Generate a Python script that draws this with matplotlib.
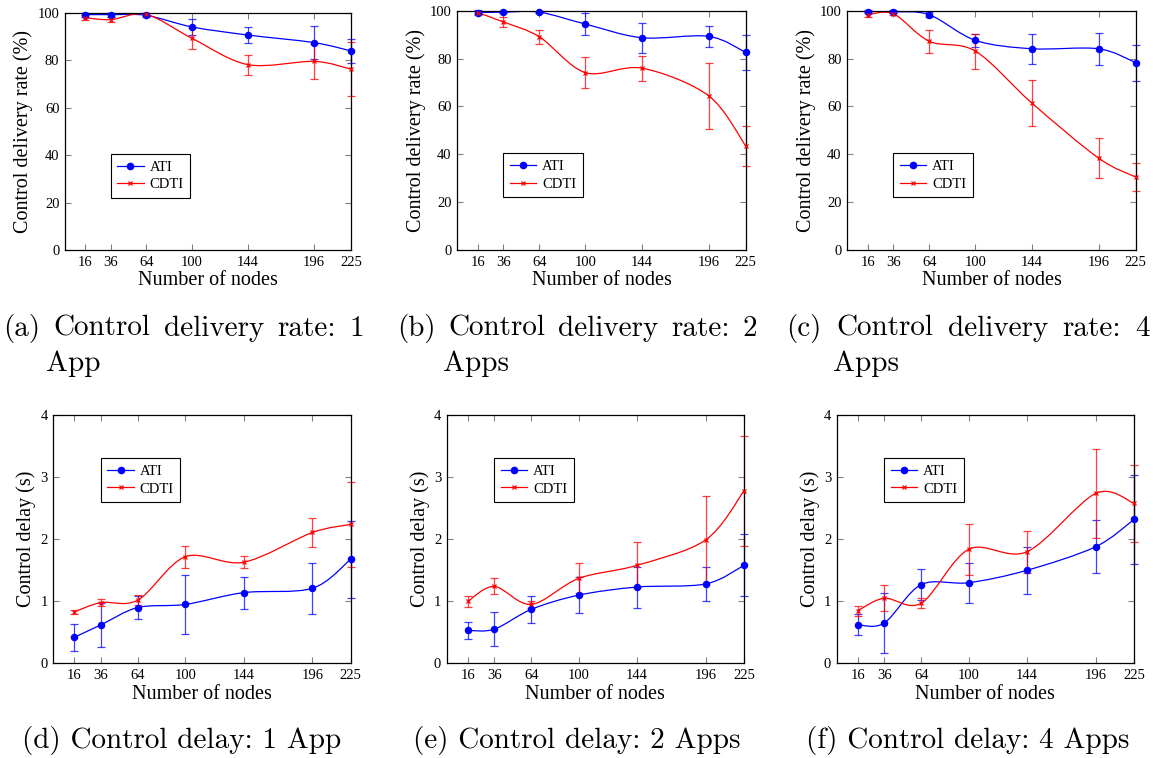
import numpy as np
import matplotlib
matplotlib.use("Agg")
import matplotlib.pyplot as plt
from matplotlib.path import Path
from matplotlib.patches import PathPatch
from matplotlib.lines import Line2D

# number of nodes on the x axis
nodes = [16, 36, 64, 100, 144, 196, 225]

# control delivery rate (%), mean and error, for 1 / 2 / 4 apps
rate_ati_1 = [99.3, 99.3, 99.0, 94.1, 90.7, 87.5, 84.0]
rate_ati_1_err = [0.8, 0.8, 0.8, 3.5, 3.2, 7.0, 5.0]
rate_cdti_1 = [98.0, 97.2, 99.4, 89.3, 78.2, 79.6, 76.3]
rate_cdti_1_err = [1.0, 1.0, 0.5, 4.5, 4.2, 7.4, 11.5]

rate_ati_2 = [99.2, 99.4, 99.4, 94.4, 88.7, 89.3, 82.6]
rate_ati_2_err = [1.0, 0.5, 0.5, 4.6, 6.2, 4.3, 7.2]
rate_cdti_2 = [99.2, 95.3, 89.1, 74.1, 76.0, 64.5, 43.5]
rate_cdti_2_err = [0.5, 2.0, 3.0, 6.4, 5.2, 13.8, 8.2]

rate_ati_4 = [99.6, 99.6, 98.3, 87.6, 84.1, 84.1, 78.3]
rate_ati_4_err = [0.5, 0.5, 1.0, 2.8, 6.2, 6.6, 7.5]
rate_cdti_4 = [98.3, 98.7, 87.2, 83.1, 61.4, 38.4, 30.5]
rate_cdti_4_err = [1.0, 0.5, 4.7, 7.3, 9.5, 8.2, 5.8]

# control delay (s), mean and error, for 1 / 2 / 4 apps
delay_ati_1 = [0.42, 0.62, 0.90, 0.95, 1.14, 1.21, 1.68]
delay_ati_1_err = [0.22, 0.35, 0.18, 0.47, 0.26, 0.41, 0.62]
delay_cdti_1 = [0.83, 0.98, 1.02, 1.72, 1.63, 2.11, 2.24]
delay_cdti_1_err = [0.03, 0.06, 0.08, 0.18, 0.10, 0.24, 0.68]

delay_ati_2 = [0.53, 0.55, 0.87, 1.10, 1.23, 1.28, 1.58]
delay_ati_2_err = [0.13, 0.27, 0.22, 0.29, 0.33, 0.28, 0.50]
delay_cdti_2 = [1.00, 1.24, 0.95, 1.37, 1.58, 1.99, 2.78]
delay_cdti_2_err = [0.09, 0.13, 0.05, 0.24, 0.37, 0.71, 0.88]

delay_ati_4 = [0.62, 0.65, 1.27, 1.30, 1.50, 1.88, 2.32]
delay_ati_4_err = [0.17, 0.48, 0.25, 0.32, 0.38, 0.43, 0.72]
delay_cdti_4 = [0.85, 1.05, 0.97, 1.84, 1.80, 2.74, 2.58]
delay_cdti_4_err = [0.08, 0.21, 0.08, 0.41, 0.34, 0.72, 0.62]

captions = [
    ["(a) Control delivery rate: 1", "App"],
    ["(b) Control delivery rate: 2", "Apps"],
    ["(c) Control delivery rate: 4", "Apps"],
    ["(d) Control delay: 1 App"],
    ["(e) Control delay: 2 Apps"],
    ["(f) Control delay: 4 Apps"],
]

W, H = 1153, 758
SERIF = "Liberation Serif"
CAPFONT = "cmr10"
CAPSIZE = 21
BLUE = "#0000ff"
RED = "#ff0000"


def smooth_path(x, y, t=0.16):
    # cubic bezier through the points, like a pgfplots "smooth" plot
    pts = np.column_stack([x, y]).astype(float)
    n = len(pts)
    verts = [pts[0]]
    codes = [Path.MOVETO]
    for i in range(n - 1):
        p0 = pts[max(i - 1, 0)]
        p1 = pts[i]
        p2 = pts[i + 1]
        p3 = pts[min(i + 2, n - 1)]
        verts += [p1 + (p2 - p0) * t, p2 - (p3 - p1) * t, p2]
        codes += [Path.CURVE4] * 3
    return Path(verts, codes)


def px_axes(fig, left, right, top, bottom):
    return fig.add_axes([left / W, 1 - bottom / H, (right - left) / W, (bottom - top) / H])


def panel(ax, series, ylim, yticks, ylabel, legend_y):
    for y, err, color, marker, ms in series:
        ax.add_patch(PathPatch(smooth_path(nodes, y), facecolor="none",
                               edgecolor=color, lw=0.9, zorder=2))
        ax.errorbar(nodes, y, yerr=err, fmt="none", ecolor=color, elinewidth=0.9,
                    capsize=3, capthick=0.9, alpha=0.75, zorder=2, clip_on=False)
        ax.plot(nodes, y, linestyle="none", marker=marker, color=color,
                markersize=ms, markeredgewidth=0.9, zorder=3, clip_on=False)
    ax.set_xlim(0, 225)
    ax.set_ylim(*ylim)
    ax.set_xticks(nodes)
    ax.set_yticks(yticks)
    ax.tick_params(direction="in", top=True, right=True, length=4, width=0.8,
                   color="#808080", labelsize=10.5, pad=4)
    for lab in ax.get_xticklabels() + ax.get_yticklabels():
        lab.set_fontfamily(SERIF)
    for sp in ax.spines.values():
        sp.set_linewidth(0.9)
    ax.set_xlabel("Number of nodes", fontfamily=SERIF, fontsize=14.5, labelpad=2)
    ax.set_ylabel(ylabel, fontfamily=SERIF, fontsize=14.5, labelpad=3)

    handles = [
        Line2D([], [], color=BLUE, marker="o", markersize=4.5, lw=0.9),
        Line2D([], [], color=RED, marker="x", markersize=3, lw=0.9, markeredgewidth=0.9),
    ]
    leg = ax.legend(handles, ["ATI", "CDTI"], loc="lower left",
                    bbox_to_anchor=(0.16, legend_y), prop={"family": SERIF, "size": 10.5},
                    frameon=True, fancybox=False, framealpha=1, edgecolor="black",
                    handlelength=1.8, handletextpad=0.4, borderpad=0.45,
                    labelspacing=0.3, borderaxespad=0)
    leg.get_frame().set_linewidth(0.8)


fig = plt.figure(figsize=(W / 100, H / 100), dpi=100)

rate_axes = [
    px_axes(fig, 65, 351, 13, 250),
    px_axes(fig, 457.3, 745.7, 10.7, 250),
    px_axes(fig, 847.3, 1135.7, 10.7, 250),
]
delay_axes = [
    px_axes(fig, 53.3, 350.7, 415.3, 663.3),
    px_axes(fig, 446.7, 744, 415.3, 663.3),
    px_axes(fig, 836.7, 1134, 415.3, 663.3),
]

rate_data = [
    (rate_ati_1, rate_ati_1_err, rate_cdti_1, rate_cdti_1_err),
    (rate_ati_2, rate_ati_2_err, rate_cdti_2, rate_cdti_2_err),
    (rate_ati_4, rate_ati_4_err, rate_cdti_4, rate_cdti_4_err),
]
delay_data = [
    (delay_ati_1, delay_ati_1_err, delay_cdti_1, delay_cdti_1_err),
    (delay_ati_2, delay_ati_2_err, delay_cdti_2, delay_cdti_2_err),
    (delay_ati_4, delay_ati_4_err, delay_cdti_4, delay_cdti_4_err),
]

for ax, (a, ae, c, ce) in zip(rate_axes, rate_data):
    panel(ax, [(a, ae, BLUE, "o", 4.5), (c, ce, RED, "x", 3)],
          (0, 100), range(0, 101, 20), "Control delivery rate (%)", 0.22)

for ax, (a, ae, c, ce) in zip(delay_axes, delay_data):
    panel(ax, [(a, ae, BLUE, "o", 4.5), (c, ce, RED, "x", 3)],
          (0, 4), range(0, 5), "Control delay (s)", 0.65)

renderer = fig.canvas.get_renderer()


def justified(text, x0, x1, base):
    # spread the words of one caption line between x0 and x1 (pixels)
    words = text.split()
    items = [fig.text(0, 1 - base / H, w, fontfamily=CAPFONT, fontsize=CAPSIZE,
                      va="baseline", ha="left") for w in words]
    widths = [t.get_window_extent(renderer).width for t in items]
    gap = (x1 - x0 - sum(widths)) / (len(words) - 1)
    x = x0
    for t, w in zip(items, widths):
        t.set_x(x / W)
        x += w + gap


# sub-figure captions: (first-line left, first-line right, second-line left, baseline)
cap_pos = [(3, 364, 46, 336), (397, 757, 443, 336), (786, 1150, 833, 336),
           (22, None, None, 748), (413, None, None, 748), (806, None, None, 748)]
for lines, (x1, xr, x2, base) in zip(captions, cap_pos):
    if len(lines) > 1:
        justified(lines[0], x1, xr, base)
        fig.text(x2 / W, 1 - (base + 35) / H, lines[1], fontfamily=CAPFONT,
                 fontsize=CAPSIZE, va="baseline", ha="left")
    else:
        fig.text(x1 / W, 1 - base / H, lines[0], fontfamily=CAPFONT,
                 fontsize=CAPSIZE, va="baseline", ha="left")

fig.savefig("out.png", dpi=100)
